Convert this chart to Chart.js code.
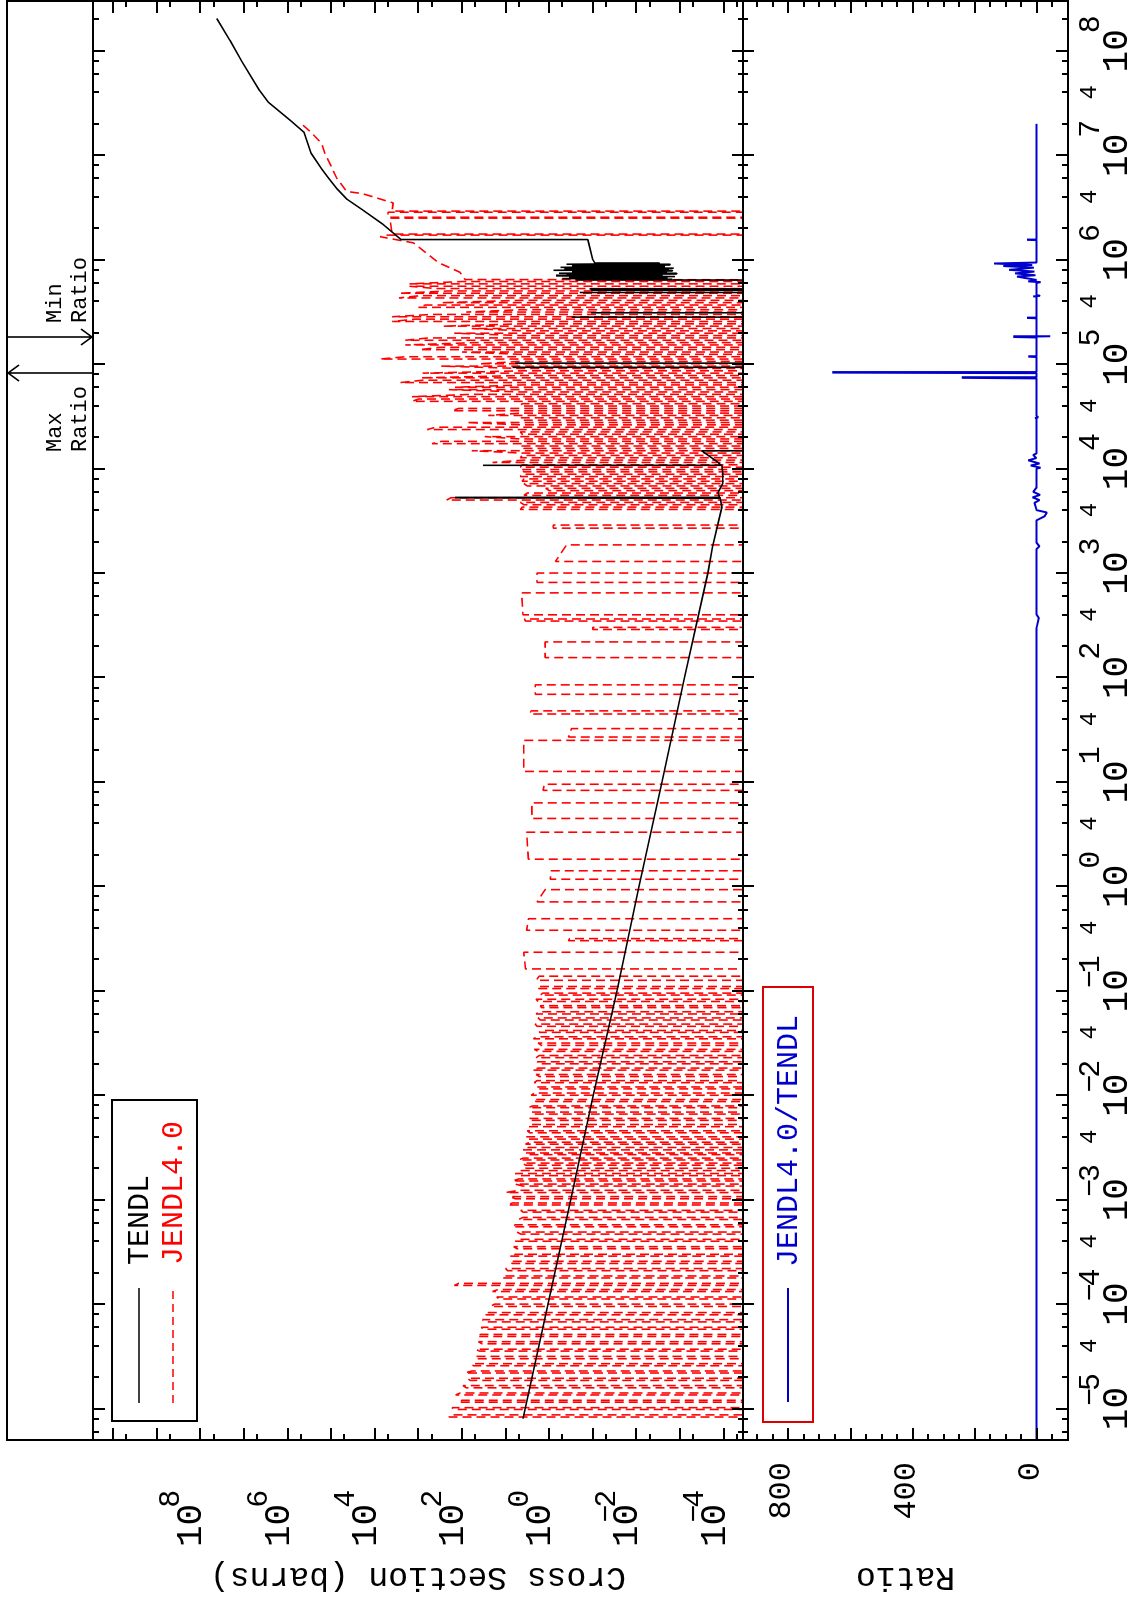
<!DOCTYPE html>
<html>
<head>
<meta charset="utf-8">
<title>TENDL vs JENDL4.0</title>
<script src="https://cdn.jsdelivr.net/npm/chart.js@4.4.1/dist/chart.umd.min.js"></script>
<style>
  html, body { margin: 0; padding: 0; background: #fff; }
  body { width: 1130px; height: 1600px; overflow: hidden; position: relative; }
  /* the plot is drawn landscape and then turned a quarter turn, like the original */
  #page { position: absolute; left: 0; top: 0; width: 1600px; height: 1130px;
          transform-origin: 0 0; transform: translateY(1600px) rotate(-90deg); }
  #page canvas { position: absolute; left: 0; top: 0; }
</style>
</head>
<body>
<div id="page">
  <canvas id="xs-chart" width="1600" height="1130"></canvas>
  <canvas id="ratio-chart" width="1600" height="1130"></canvas>
</div>
<script>
/* ---- Axis ranges & tick labels ---- */
const E_MIN = 5e-6, E_MAX = 3e8;
const XS_MIN = 3.6e-5, XS_MAX = 2.9e10;
const R_MIN = -100, R_MAX = 946;
const DIP = 1e-30;   // values that fall far below the plot floor

const energyDecades = [-5, -4, -3, -2, -1, 0, 1, 2, 3, 4, 5, 6, 7, 8];
const energyFours = [4e-5, 4e-4, 4e-3, 4e-2, 4e-1, 4, 40, 400, 4e3, 4e4, 4e5, 4e6, 4e7];
const xsLabelDecades = [8, 6, 4, 2, 0, -2, -4];
const ratioLabels = [800, 400, 0];

/* ---- TENDL (solid black) ---- */
const tendlE = [
  8e-6, 1e-4, 1e-3, 1e-2, 0.1, 1, 10, 100, 1000, 1780, 4270, 5200, 5250, 5300, 5900, 7200, 9100,
  1.06e4, 1.07e4, 1.08e4, 1.15e4,
  1.48e4, 1.55e4, 9.25e4, 9.3e4, 9.35e4, 1.015e5, 1.02e5, 1.025e5, 2.81e5, 2.82e5, 2.83e5,
  3.09e5, 3.1e5, 3.11e5, 4.84e5, 4.85e5, 4.86e5, 5.09e5, 5.1e5, 5.11e5, 5.24e5, 5.25e5, 5.26e5, 6.3e5,
  6.40e5, 6.50e5, 6.60e5, 6.70e5, 6.80e5, 6.90e5, 7.00e5, 7.10e5, 7.20e5, 7.30e5,
  7.42e5, 7.55e5, 7.68e5, 7.80e5, 7.92e5, 8.05e5, 8.18e5, 8.30e5, 8.45e5, 8.60e5,
  8.75e5, 8.90e5, 9.05e5, 9.20e5, 9.30e5,
  1.0e6, 1.55e6, 1.56e6, 2.19e6, 3.02e6, 3.8e6, 4.79e6, 6.03e6, 7.41e6, 1.05e7, 1.66e7,
  2.14e7, 3.24e7, 4.17e7, 7.9e7, 1.26e8, 2.04e8
];
const tendlXS = [
  4.0, 1.07, 0.32, 0.098, 0.028, 8.7e-3, 2.6e-3, 7.9e-4, 2.3e-4, 1.8e-4, 1.1e-4, 1.2e-4, 145, 1.25e-4, 1.35e-4, 1.05e-4, 1.05e-4,
  1.1e-4, 33, 1.15e-4, 1.35e-4,
  3.2e-4, DIP, DIP, 7, DIP, DIP, 6, DIP, DIP, 0.31, DIP,
  DIP, 0.11, DIP, DIP, 0.2, DIP, DIP, 0.11, DIP, DIP, 0.12, DIP, DIP,
  0.25, 0.0015, 0.5, 0.002, 0.35, 0.0013, 0.7, 0.0025, 0.4, 0.0012,
  0.6, 0.002, 0.3, 0.0015, 0.8, 0.0018, 0.45, 0.0014, 0.55, 0.0022,
  0.3, 0.0017, 0.4, 0.003, 0.09,
  0.1, 0.13, 2500, 6600, 19500, 43600, 74000, 1.15e5, 1.66e5, 2.9e5, 4.2e5,
  8.5e5, 2.8e6, 4.4e6, 1.12e7, 2.1e7, 4.2e7
];

/* ---- JENDL4.0 (dashed red): resonance edges, taken two at a time ---- */
const jendlEdgeE = [
  // 1e-5 .. 1e-4
  8.3e-6, 8.7e-6, 9.8e-6, 1.02e-5, 1.15e-5, 1.2e-5, 1.35e-5, 1.41e-5, 1.58e-5, 1.66e-5,
  1.86e-5, 1.95e-5, 2.19e-5, 2.29e-5, 2.57e-5, 2.69e-5, 3.0e-5, 3.16e-5, 3.55e-5, 3.7e-5,
  4.17e-5, 4.37e-5, 4.9e-5, 5.13e-5, 5.75e-5, 6.0e-5, 6.76e-5, 7.1e-5, 7.9e-5, 8.3e-5,
  // 1e-4 .. 5e-3
  9.5e-5, 1.0e-4, 1.12e-4, 1.17e-4, 1.32e-4, 1.38e-4, 1.51e-4, 1.58e-4, 1.78e-4, 1.86e-4,
  2.09e-4, 2.19e-4, 2.45e-4, 2.57e-4, 2.88e-4, 3.0e-4, 3.39e-4, 3.55e-4, 4.0e-4, 4.17e-4,
  4.68e-4, 4.9e-4, 5.5e-4, 5.75e-4, 6.46e-4, 6.76e-4, 7.6e-4, 7.9e-4, 8.9e-4, 9.3e-4,
  1.02e-3, 1.07e-3, 1.17e-3, 1.23e-3, 1.35e-3, 1.41e-3, 1.51e-3, 1.58e-3, 1.7e-3, 1.78e-3,
  1.9e-3, 2.0e-3, 2.14e-3, 2.24e-3, 2.4e-3, 2.5e-3, 2.7e-3, 2.8e-3, 3.0e-3, 3.16e-3,
  3.4e-3, 3.55e-3, 3.8e-3, 4.0e-3, 4.37e-3, 4.57e-3, 5.0e-3, 5.25e-3,
  // 5e-3 .. 0.1
  5.75e-3, 6.0e-3, 6.6e-3, 6.9e-3, 7.6e-3, 7.9e-3, 8.7e-3, 9.1e-3, 1.0e-2, 1.05e-2,
  1.15e-2, 1.2e-2, 1.32e-2, 1.38e-2, 1.51e-2, 1.58e-2, 1.74e-2, 1.82e-2, 2.0e-2, 2.09e-2,
  2.29e-2, 2.4e-2, 2.63e-2, 2.75e-2, 3.0e-2, 3.16e-2, 3.47e-2, 3.63e-2, 4.0e-2, 4.17e-2,
  4.57e-2, 4.8e-2, 5.25e-2, 5.5e-2, 6.0e-2, 6.3e-2, 6.9e-2, 7.2e-2, 7.9e-2, 8.3e-2,
  9.1e-2, 9.5e-2, 0.105, 0.11,
  // 0.1 .. 3e3
  0.126, 0.138, 0.162, 0.234, 0.302, 0.316, 0.38, 0.49, 0.71, 0.93,
  1.17, 1.41, 1.82, 3.3, 4.47, 6.3, 8.3, 9.5, 12.6, 25,
  26.9, 32.4, 44.7, 47.9, 69, 85, 155, 219, 288, 302,
  347, 363, 398, 646, 813, 1000, 1290, 1860, 2690, 2880,
  // 4e3 .. 6e5
  4063, 4277, 4507, 4744, 4999, 5262, 5545, 5837, 6150, 6474,
  6821, 7180, 7565, 7964, 8392, 8834, 9308, 9798, 1.032e4, 1.087e4,
  1.145e4, 1.206e4, 1.270e4, 1.337e4, 1.408e4, 1.483e4, 1.562e4, 1.645e4, 1.733e4, 1.824e4,
  1.922e4, 2.023e4, 2.133e4, 2.245e4, 2.365e4, 2.490e4, 2.624e4, 2.762e4, 2.909e4, 3.063e4,
  3.227e4, 3.397e4, 3.580e4, 3.768e4, 3.971e4, 4.180e4, 4.404e4, 4.636e4, 4.885e4, 5.142e4,
  5.418e4, 5.704e4, 6.010e4, 6.326e4, 6.666e4, 7.017e4, 7.394e4, 7.783e4, 8.201e4, 8.633e4,
  9.097e4, 9.576e4, 1.009e5, 1.062e5, 1.119e5, 1.178e5, 1.242e5, 1.307e5, 1.377e5, 1.450e5,
  1.527e5, 1.608e5, 1.694e5, 1.783e5, 1.879e5, 1.978e5, 2.084e5, 2.194e5, 2.311e5, 2.433e5,
  2.563e5, 2.698e5, 2.843e5, 2.993e5, 3.154e5, 3.320e5, 3.498e5, 3.682e5, 3.880e5, 4.085e5,
  4.304e5, 4.531e5, 4.774e5, 5.025e5, 5.295e5, 5.574e5, 5.873e5, 6.183e5
];
const jendlEdgeXS = [
  200, 180, 150, 170, 120, 100, 140, 110, 80, 95,
  65, 75, 85, 60, 55, 60, 45, 50, 40, 48,
  35, 42, 45, 38, 32, 36, 30, 34, 28, 30,
  22, 18, 14, 16, 20, 15, 150, 120, 12, 10,
  9, 10, 7, 8, 8, 6, 5.5, 6.5, 6, 5,
  4.5, 5.5, 7, 6, 5, 4, 4, 4.5, 9, 7,
  6, 8, 10, 5, 4, 6, 7, 5, 5, 6,
  4.5, 3.5, 3.5, 4, 5, 4, 3, 3.5, 4, 3,
  3.5, 2.8, 3, 3.5, 2.8, 3.2, 3, 2.6,
  2.5, 3, 2.2, 2.6, 3, 2.4, 2.0, 2.3, 2.6, 2.2,
  1.8, 2.0, 2.2, 1.9, 1.7, 2.0, 2.4, 1.8, 1.6, 1.9,
  2.0, 1.7, 1.8, 2.2, 1.5, 1.8, 2.3, 1.9, 1.7, 1.5,
  1.9, 2.1, 1.6, 1.8, 2.0, 1.7, 1.5, 1.6, 1.8, 2.0,
  1.6, 1.4, 1.7, 1.9,
  2.0, 1.7, 3.5, 3.85, 0.36, 0.34, 3.3, 3.0, 1.9, 1.24,
  0.95, 0.9, 3.0, 3.3, 2.5, 2.5, 1.38, 1.3, 3.85, 3.85,
  0.36, 0.31, 2.8, 2.6, 2.1, 2.1, 1.24, 1.24, 0.1, 0.1,
  3.5, 3.7, 4.0, 4.3, 1.9, 1.9, 0.72, 0.40, 0.81, 0.81,
  4.6, 4.2, 3.8, 4.6, 224, 180, 3.8, 3.2, 1.0, 1.2,
  3.2, 3.8, 4.2, 3.8, 4.6, 4.2, 3.8, 4.6, 4.6, 4.2,
  20, 3.8, 4.6, 4.2, 4.2, 60, 3.8, 4.6, 490, 300,
  4.6, 30, 4.2, 4.6, 630, 400, 4.6, 80, 4.2, 4.6,
  25, 4.6, 170, 120, 4.6, 4.2, 1400, 1000, 1400, 60,
  4.6, 200, 145, 4.2, 2600, 800, 900, 4.6, 800, 4.2,
  4.6, 300, 40, 4.6, 7600, 2000, 4.6, 100, 930, 320,
  2000, 50, 2000, 600, 4.6, 150, 4.2, 60, 275, 4.6,
  4000, 1200, 4000, 500, 80, 4.6, 1000, 700, 300, 4.6,
  2800, 900, 2800, 200, 400, 1600, 1600, 100
];
/* smooth part above the resonance region */
const jendlTailE = [6.3e5, 6.46e5, 7.59e5, 9.33e5, 1.45e6, 1.66e6, 1.72e6, 1.72e6, 1.76e6, 1.76e6,
  2.45e6, 2.5e6, 2.5e6, 2.55e6, 2.55e6, 2.85e6, 2.85e6, 2.92e6, 2.92e6, 3.5e6,
  4.3e6, 4.5e6, 6.0e6, 1.05e7, 1.3e7, 1.66e7, 1.95e7];
const jendlTailXS = [DIP, 85, 112, 340, 1300, 7500, 6000, DIP, DIP, 4000,
  4500, 4500, DIP, DIP, 5000, 5000, DIP, DIP, 4000, 3800,
  19500, 44000, 74000, 1.4e5, 1.66e5, 2.9e5, 4.5e5];

/* ---- JENDL4.0 / TENDL ratio (blue) ---- */
const ratioE = [5e-6, 300, 370, 400, 1700, 1800, 1950, 3200, 3500, 3800, 4000, 4700, 5000, 5300, 5600, 6000, 6600,
  1.0e4, 1.02e4, 1.07e4, 1.12e4, 1.2e4, 1.26e4, 1.35e4, 1.4e4, 3.0e4, 3.05e4, 3.1e4, 3.2e4,
  7.3e4, 7.4e4, 7.5e4, 8.2e4, 8.3e4, 8.4e4, 1.17e5, 1.18e5, 1.19e5, 1.8e5, 1.82e5, 1.84e5, 1.86e5,
  2.75e5, 2.77e5, 2.79e5, 4.4e5, 4.45e5, 4.5e5, 4.55e5, 6.0e5, 6.1e5, 6.2e5, 6.4e5, 6.7e5, 6.9e5,
  7.1e5, 7.4e5, 7.7e5, 8.0e5, 8.4e5, 8.7e5, 8.9e5, 9.2e5, 9.4e5, 1.54e6, 1.55e6, 1.56e6, 2.0e7];
const ratioV = [1, 1, -6, 1, 1, -8, 1, 1, -25, -32, 1, 8, -8, 14, -10, 12, 1,
  1, -12, 20, -8, 28, 2, 12, 1, 1, 6, -4, 1,
  1, 242, 1, 1, 659, 1, 1, 28, 1, 1, 76, -43, 1,
  1, 32, 1, 1, 12, -8, 1, 1, -12, 28, 1, 40, 64,
  5, 70, 8, 90, 10, 108, 15, 138, 1, 1, 32, 1, 1];
const maxRatioE = 8.3e4, minRatioE = 1.82e5;

/* ---- Layout (landscape canvas pixels, before the page turn) ---- */
const PLOT_L = 160, PLOT_R = 1599;
const STRIP_T = 7, XS_T = 93, XS_B = 743, R_B = 1068;
const FONT = "'Liberation Mono', 'DejaVu Sans Mono', monospace";
const RED = '#ff0000', BLUE = '#0000cd';

function jendlPoints() {
  const pts = [];
  for (let i = 0; i < jendlEdgeE.length; i += 2) {
    pts.push({ x: jendlEdgeE[i], y: DIP }, { x: jendlEdgeE[i], y: jendlEdgeXS[i] },
             { x: jendlEdgeE[i + 1], y: jendlEdgeXS[i + 1] }, { x: jendlEdgeE[i + 1], y: DIP });
  }
  jendlTailE.forEach((e, i) => pts.push({ x: e, y: jendlTailXS[i] }));
  return pts;
}
const zipXY = (xs, ys) => xs.map((x, i) => ({ x, y: ys[i] }));

/* ---- drawing helpers ---- */
function energyTickList() {
  const out = [];
  for (let n = -6; n <= 8; n++) {
    const d = Math.pow(10, n);
    out.push({ v: d, major: true });
    [2, 4, 6, 8].forEach(m => out.push({ v: m * d, major: false }));
  }
  return out.filter(t => t.v >= E_MIN && t.v <= E_MAX);
}

function energyTicks(ctx, xScale, v, before, after, bigLen, smallLen) {
  ctx.beginPath();
  energyTickList().forEach(t => {
    const u = Math.round(xScale.getPixelForValue(t.v));
    const len = t.major ? bigLen : smallLen;
    ctx.moveTo(u, v - before * len);
    ctx.lineTo(u, v + after * len);
  });
  ctx.stroke();
}

function sideTicks(ctx, yScale, list) {
  ctx.beginPath();
  list.forEach(t => {
    const v = Math.round(yScale.getPixelForValue(t.v));
    const len = t.major ? 12 : 6;
    ctx.moveTo(PLOT_L, v); ctx.lineTo(PLOT_L + len, v);
    ctx.moveTo(PLOT_R, v); ctx.lineTo(PLOT_R - len, v);
  });
  ctx.stroke();
}

// "10" with a raised exponent; a minus sign sits over the top of the 0
function drawPow(ctx, n, x, base, o) {
  ctx.textBaseline = 'alphabetic';
  ctx.textAlign = 'left';
  ctx.font = `${o.big}px ${FONT}`;
  const w = ctx.measureText('10').width;
  const x0 = o.center ? x - w / 2 : x;
  ctx.fillText('10', x0, base);
  ctx.font = `${o.small}px ${FONT}`;
  const xs = x0 + w - 4;
  ctx.fillText(String(Math.abs(n)), xs, base - o.raise);
  if (n < 0) {
    ctx.textAlign = 'right';
    ctx.fillText('\u2212', xs + 3, base - o.raise);
  }
}

function arrow(ctx, u, from, to) {
  const dir = Math.sign(to - from);
  ctx.beginPath();
  ctx.moveTo(u, from); ctx.lineTo(u, to);
  ctx.moveTo(u - 8, to - dir * 11); ctx.lineTo(u, to); ctx.lineTo(u + 8, to - dir * 11);
  ctx.stroke();
}

/* ---- Upper panel decorations ---- */
const xsDecor = {
  id: 'xsDecor',
  afterDraw(chart) {
    const { ctx } = chart;
    const x = chart.scales.x, y = chart.scales.y;
    ctx.save();
    ctx.strokeStyle = '#000'; ctx.fillStyle = '#000'; ctx.lineWidth = 2;

    energyTicks(ctx, x, XS_T, 0, 1, 12, 6);

    const xsTicks = [];
    for (let n = -5; n <= 10; n++) {
      xsTicks.push({ v: Math.pow(10, n), major: true }, { v: 5 * Math.pow(10, n), major: false });
    }
    sideTicks(ctx, y, xsTicks.filter(t => t.v >= XS_MIN && t.v <= XS_MAX));

    xsLabelDecades.forEach(n => {
      const v = y.getPixelForValue(Math.pow(10, n));
      drawPow(ctx, n, 53, v + 1, { big: 36, small: 30, raise: 22 });
    });

    // axis title
    ctx.save();
    ctx.translate(23, (XS_T + XS_B) / 2);
    ctx.rotate(-Math.PI / 2);
    ctx.font = `33px ${FONT}`;
    ctx.textAlign = 'center'; ctx.textBaseline = 'middle';
    ctx.fillText('Cross Section (barns)', 0, 0);
    ctx.restore();

    // legend
    ctx.strokeRect(179, 112, 321, 85);
    ctx.font = `30px ${FONT}`;
    ctx.textAlign = 'left'; ctx.textBaseline = 'middle';
    ctx.lineWidth = 1.6;
    ctx.beginPath(); ctx.moveTo(197, 139); ctx.lineTo(312, 139); ctx.stroke();
    ctx.fillText('TENDL', 335, 140);
    ctx.strokeStyle = RED; ctx.fillStyle = RED;
    ctx.setLineDash([8, 5]);
    ctx.beginPath(); ctx.moveTo(197, 173); ctx.lineTo(312, 173); ctx.stroke();
    ctx.setLineDash([]);
    ctx.fillText('JENDL4.0', 335, 174);

    // max / min ratio markers in the strip above the plot
    ctx.strokeStyle = '#000'; ctx.fillStyle = '#000'; ctx.lineWidth = 1.6;
    const uMax = Math.round(x.getPixelForValue(maxRatioE));
    const uMin = Math.round(x.getPixelForValue(minRatioE));
    arrow(ctx, uMax, XS_T, STRIP_T + 1);
    arrow(ctx, uMin, STRIP_T, XS_T - 1);
    ctx.font = `22px ${FONT}`;
    ctx.textAlign = 'left'; ctx.textBaseline = 'middle';
    ctx.fillText('Max', uMax - 79, 55);
    ctx.fillText('Ratio', uMax - 79, 80);
    ctx.fillText('Min', uMin + 14, 55);
    ctx.fillText('Ratio', uMin + 14, 80);
    ctx.restore();
  }
};

/* ---- Lower panel + frame decorations ---- */
const ratioDecor = {
  id: 'ratioDecor',
  afterDraw(chart) {
    const { ctx } = chart;
    const x = chart.scales.x, y = chart.scales.y;
    ctx.save();
    ctx.strokeStyle = '#000'; ctx.fillStyle = '#000'; ctx.lineWidth = 2;

    ctx.strokeRect(PLOT_L, STRIP_T, PLOT_R - PLOT_L, R_B - STRIP_T);
    ctx.beginPath();
    ctx.moveTo(PLOT_L, XS_T); ctx.lineTo(PLOT_R, XS_T);
    ctx.moveTo(PLOT_L, XS_B); ctx.lineTo(PLOT_R, XS_B);
    ctx.stroke();

    energyTicks(ctx, x, XS_B, 1, 1, 11, 5);
    energyTicks(ctx, x, R_B, 1, 0, 12, 6);

    const rTicks = [];
    for (let r = -100; r <= 900; r += 50) rTicks.push({ v: r, major: r >= 0 && r % 200 === 0 });
    sideTicks(ctx, y, rTicks);

    ctx.font = `32px ${FONT}`;
    ctx.textAlign = 'right'; ctx.textBaseline = 'alphabetic';
    ratioLabels.forEach(r => ctx.fillText(String(r), 138, y.getPixelForValue(r) + 2));

    ctx.save();
    ctx.translate(23, (XS_B + R_B) / 2);
    ctx.rotate(-Math.PI / 2);
    ctx.font = `33px ${FONT}`;
    ctx.textAlign = 'center'; ctx.textBaseline = 'middle';
    ctx.fillText('Ratio', 0, 0);
    ctx.restore();

    // energy axis labels
    energyDecades.forEach(n => {
      drawPow(ctx, n, x.getPixelForValue(Math.pow(10, n)), 1127, { big: 36, small: 30, raise: 28, center: true });
    });
    ctx.font = `24px ${FONT}`;
    ctx.textAlign = 'center'; ctx.textBaseline = 'alphabetic';
    energyFours.forEach(e => ctx.fillText('4', x.getPixelForValue(e), 1096));

    // legend
    ctx.strokeStyle = '#dd0000';
    ctx.strokeRect(178, 763, 435, 50);
    ctx.strokeStyle = BLUE; ctx.fillStyle = BLUE;
    ctx.beginPath(); ctx.moveTo(198, 788); ctx.lineTo(312, 788); ctx.stroke();
    ctx.font = `30px ${FONT}`;
    ctx.textAlign = 'left'; ctx.textBaseline = 'middle';
    ctx.fillText('JENDL4.0/TENDL', 333, 789);
    ctx.restore();
  }
};

function baseOptions(padTop, padBottom, yScale) {
  return {
    responsive: false,
    animation: false,
    devicePixelRatio: 1,
    events: [],
    layout: { padding: { left: PLOT_L, right: 1600 - PLOT_R, top: padTop, bottom: padBottom } },
    plugins: { legend: { display: false }, tooltip: { enabled: false } },
    elements: {
      point: { radius: 0 },
      line: { tension: 0, fill: false, borderJoinStyle: 'bevel', borderCapStyle: 'butt' },
    },
    scales: {
      x: { type: 'logarithmic', min: E_MIN, max: E_MAX, display: false },
      y: yScale,
    },
  };
}

new Chart(document.getElementById('xs-chart'), {
  type: 'line',
  data: {
    datasets: [
      { label: 'TENDL', data: zipXY(tendlE, tendlXS), borderColor: '#000', borderWidth: 1.6 },
      { label: 'JENDL4.0', data: jendlPoints(), borderColor: RED, borderWidth: 1.6, borderDash: [9, 5] },
    ],
  },
  options: baseOptions(XS_T, 1130 - XS_B, { type: 'logarithmic', min: XS_MIN, max: XS_MAX, display: false }),
  plugins: [xsDecor],
});

new Chart(document.getElementById('ratio-chart'), {
  type: 'line',
  data: {
    datasets: [
      { label: 'JENDL4.0/TENDL', data: zipXY(ratioE, ratioV), borderColor: BLUE, borderWidth: 2 },
    ],
  },
  options: baseOptions(XS_B, 1130 - R_B, { type: 'linear', min: R_MIN, max: R_MAX, display: false }),
  plugins: [ratioDecor],
});
</script>
</body>
</html>
